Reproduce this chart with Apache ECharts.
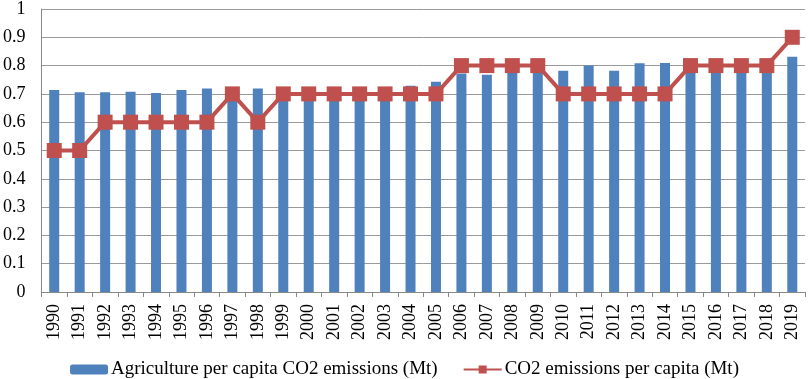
<!DOCTYPE html>
<html>
<head>
<meta charset="utf-8">
<script src="https://cdn.jsdelivr.net/npm/echarts@6/dist/echarts.min.js"></script>
<style>
  html, body { margin: 0; padding: 0; background: #fff; }
  #main { width: 809px; height: 379px; }
</style>
</head>
<body>
<div id="main"></div>
<script>
const years = ['1990', '1991', '1992', '1993', '1994', '1995', '1996', '1997', '1998', '1999',
  '2000', '2001', '2002', '2003', '2004', '2005', '2006', '2007', '2008', '2009',
  '2010', '2011', '2012', '2013', '2014', '2015', '2016', '2017', '2018', '2019'];
const agriPerCapita = [0.714, 0.706, 0.706, 0.708, 0.703, 0.714, 0.719, 0.712, 0.719, 0.712,
  0.712, 0.712, 0.712, 0.712, 0.729, 0.743, 0.772, 0.768, 0.79, 0.79,
  0.782, 0.80, 0.782, 0.808, 0.809, 0.805, 0.805, 0.805, 0.805, 0.831];
const co2PerCapita = [0.5, 0.5, 0.6, 0.6, 0.6, 0.6, 0.6, 0.7, 0.6, 0.7,
  0.7, 0.7, 0.7, 0.7, 0.7, 0.7, 0.8, 0.8, 0.8, 0.8,
  0.7, 0.7, 0.7, 0.7, 0.7, 0.8, 0.8, 0.8, 0.8, 0.9];

var myChart = echarts.init(document.getElementById('main'));
const font = 'Liberation Serif';
let option = {
  animation: false,
  textStyle: { fontFamily: font },
  grid: { left: 39, right: 4, top: 6, bottom: 87 },
  legend: {
    top: 355,
    left: 'center',
    itemGap: 25,
    itemWidth: 38,
    itemHeight: 10,
    textStyle: { fontFamily: font, fontSize: 19, color: '#000', padding: [0, 0, 0, -2] },
    data: [
      { name: 'Agriculture per capita CO2 emissions (Mt)' },
      { name: 'CO2 emissions per capita (Mt)' }
    ]
  },
  xAxis: {
    type: 'category',
    data: years,
    axisLine: { lineStyle: { color: '#888', width: 1 } },
    axisTick: { show: true, alignWithLabel: false, length: 5, lineStyle: { color: '#888' } },
    axisLabel: { rotate: 90, fontFamily: font, fontSize: 18, color: '#000', margin: 12 }
  },
  yAxis: {
    type: 'value',
    min: 0,
    max: 1,
    interval: 0.1,
    axisLine: { show: true, lineStyle: { color: '#888' } },
    axisTick: { show: false },
    splitLine: { lineStyle: { color: '#9a9a9a', width: 1 } },
    axisLabel: { fontFamily: font, fontSize: 18, color: '#000', margin: 16 }
  },
  series: [
    {
      name: 'Agriculture per capita CO2 emissions (Mt)',
      type: 'bar',
      data: agriPerCapita,
      barWidth: 10,
      itemStyle: { color: '#4F81BD' }
    },
    {
      name: 'CO2 emissions per capita (Mt)',
      type: 'line',
      data: co2PerCapita,
      symbol: 'rect',
      symbolSize: 15,
      lineStyle: { color: '#C0504D', width: 4 },
      itemStyle: { color: '#C0504D' }
    }
  ]
};
myChart.setOption(option);
</script>
</body>
</html>
